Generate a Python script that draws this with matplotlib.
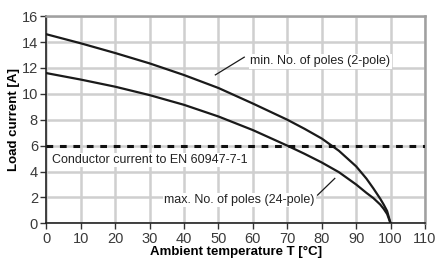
import matplotlib
matplotlib.use("Agg")
import matplotlib.pyplot as plt

plt.rcParams['font.family'] = ['Liberation Sans', 'DejaVu Sans']

temp_min = [0, 10, 20, 30, 40, 50, 60, 70, 75, 80, 85, 90, 93, 95, 97, 98, 99, 100]
min_poles = [14.6, 13.9, 13.15, 12.35, 11.45, 10.45, 9.25, 8.0, 7.3, 6.55, 5.6, 4.4,
             3.45, 2.7, 1.9, 1.45, 0.95, 0.0]
temp_max = [0, 10, 20, 30, 40, 50, 60, 70, 75, 80, 85, 90, 93, 95, 97, 98, 99, 100]
max_poles = [11.6, 11.1, 10.55, 9.9, 9.15, 8.25, 7.2, 6.0, 5.37, 4.7, 3.95, 3.0,
             2.35, 1.95, 1.45, 1.12, 0.72, 0.0]
conductor_current = 6
xticks = list(range(0, 111, 10))
yticks = list(range(0, 17, 2))

fig = plt.figure(figsize=(4.37, 2.64), dpi=100)
ax = fig.add_axes([0.106, 0.154, 0.8665, 0.785])

grid_c = '#cfcfcf'
ax.set_xlim(0, 110)
ax.set_ylim(0, 16)
ax.set_xticks(xticks)
ax.set_yticks(yticks)
ax.grid(True, color=grid_c, linewidth=1.8, zorder=0)
ax.set_axisbelow(True)

for s in ['top', 'right']:
    ax.spines[s].set_color('#a0a0a0')
    ax.spines[s].set_linewidth(1.8)
for s in ['left', 'bottom']:
    ax.spines[s].set_color('#222222')
    ax.spines[s].set_linewidth(1.2)

ax.tick_params(axis='both', direction='out', length=4, width=1, color='#333333',
               labelsize=10.5, labelcolor='#3a3a3a', pad=2)

ax.plot(temp_min, min_poles, color='#1a1a1a', linewidth=1.6, zorder=3,
        solid_joinstyle='round')
ax.plot(temp_max, max_poles, color='#1a1a1a', linewidth=1.6, zorder=3,
        solid_joinstyle='round')
ax.axhline(conductor_current, color='#111111', linewidth=2.2, linestyle=(0, (2.2, 2.2)), zorder=4)

ax.text(1.6, 4.9, 'Conductor current to EN 60947-7-1', fontsize=9, color='#222222',
        va='center', ha='left', zorder=5,
        bbox=dict(facecolor='white', edgecolor='none', pad=1))
ax.text(59.3, 12.5, 'min. No. of poles (2-pole)', fontsize=9, color='#222222',
        va='center', ha='left', zorder=5,
        bbox=dict(facecolor='white', edgecolor='none', pad=1))
ax.plot([49.1, 57.5], [11.46, 12.83], color='#1a1a1a', linewidth=0.9, zorder=5)
ax.text(78.0, 1.8, 'max. No. of poles (24-pole)', fontsize=9, color='#222222',
        va='center', ha='right', zorder=5,
        bbox=dict(facecolor='white', edgecolor='none', pad=1))
ax.plot([78.8, 83.8], [2.18, 3.47], color='#1a1a1a', linewidth=0.9, zorder=5)

ax.set_xlabel('Ambient temperature T [°C]', fontsize=9.5, fontweight='bold', labelpad=0)
ax.set_ylabel('Load current [A]', fontsize=9.5, fontweight='bold', labelpad=1)

fig.savefig('out.png', dpi=100)
